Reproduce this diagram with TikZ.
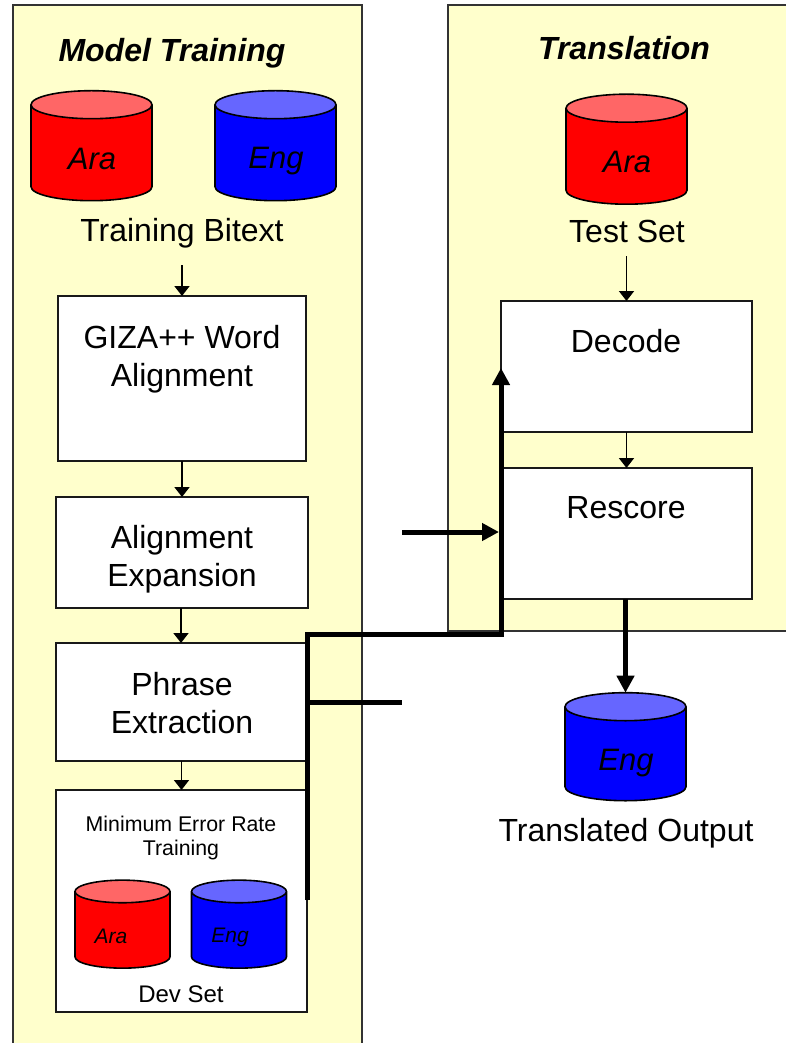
\documentclass[tikz,border=0pt]{standalone}
\usepackage{fontspec}
\setmainfont{Liberation Sans}
\usetikzlibrary{positioning, shapes.geometric, arrows.meta}
\definecolor{panelfill}{HTML}{FFFFCC}
\definecolor{redtop}{HTML}{FF6666}
\definecolor{bluetop}{HTML}{6666FF}
\tikzset{
  panel/.style={draw=black!80, line width=1.4pt, fill=panelfill, anchor=north west, inner sep=0pt, outer sep=0pt},
  stepbox/.style={draw=black!90, line width=1.8pt, fill=white, anchor=north west, inner sep=0pt, outer sep=0pt},
  bigtext/.style={font=\fontsize{32}{38.5}\selectfont, align=center},
  heading/.style={font=\fontsize{32}{38}\selectfont\bfseries\itshape},
  bigcyl/.style={cylinder, shape border rotate=90, draw=black, line width=1.6pt, cylinder uses custom fill,
    inner sep=28pt, outer sep=0pt, minimum width=121pt, minimum height=110pt, aspect=0.5},
  smallcyl/.style={bigcyl, inner sep=22.6pt, minimum width=95pt, minimum height=88pt},
  redcyl/.style={cylinder body fill=red, cylinder end fill=redtop},
  bluecyl/.style={cylinder body fill=blue, cylinder end fill=bluetop},
  cyltext/.style={font=\fontsize{31}{36}\selectfont\itshape},
  smalltext/.style={font=\fontsize{21}{24}\selectfont\itshape},
  thin arrow/.style={line width=1.8pt, -{Triangle[length=10pt,width=15pt]}},
  bus/.style={line width=5pt},
  bus arrow/.style={line width=5pt, -{Triangle[length=17pt,width=17pt]}}
}
\begin{document}
\begin{tikzpicture}[x=1pt,y=-1pt]
  \useasboundingbox (0,0) rectangle (786,1043);

  % panels
  \node [panel, minimum width=349pt, minimum height=1060pt] (modelpanel) at (13,5) {};
  \node [panel, minimum width=360pt, minimum height=626pt] (transpanel) at (448,5) {};
  \node [heading] (modeltitle) at (172,53) {Model Training};
  \node [heading] (transtitle) at (624,48) {Translation};

  % training side
  \node [bigcyl, redcyl] (trainara) at (91.5,159) {};
  \node [bigcyl, bluecyl] (traineng) at (275.5,159) {};
  \node [cyltext] (trainaratext) at (92,159) {Ara};
  \node [cyltext] (trainengtext) at (276,161) {Eng};
  \node [bigtext] (bitext) at (182,233) {Training Bitext};

  \node [stepbox, minimum width=248pt, minimum height=165pt] (giza) at (58,296) {};
  \node [bigtext, anchor=center] (gizatext) at (182,359) {GIZA++ Word\\Alignment};
  \node [stepbox, minimum width=252pt, minimum height=111pt] (expand) at (56,497) {};
  \node [bigtext] (expandtext) at (182,559) {Alignment\\Expansion};
  \node [stepbox, minimum width=250pt, minimum height=118pt] (phrase) at (56,643) {};
  \node [bigtext] (phrasetext) at (182,703) {Phrase\\Extraction};
  \node [stepbox, minimum width=251pt, minimum height=222pt] (mert) at (56,790) {};
  \node [font=\fontsize{21.3}{24.5}\selectfont, align=center] (merttext) at (181,838) {Minimum Error Rate\\Training};
  \node [smallcyl, redcyl] (devara) at (122.5,935) {};
  \node [smallcyl, bluecyl] (deveng) at (239,935) {};
  \node [smalltext] (devaratext) at (111,936) {Ara};
  \node [smalltext] (devengtext) at (230,937) {Eng};
  \node [font=\fontsize{24}{28}\selectfont] (devset) at (181,994) {Dev Set};

  % translation side
  \node [bigcyl, redcyl] (testara) at (626.5,162.5) {};
  \node [cyltext] (testaratext) at (627,162) {Ara};
  \node [bigtext] (testset) at (627,231) {Test Set};
  \node [stepbox, minimum width=251pt, minimum height=131pt] (decode) at (501,301) {};
  \node [bigtext] (decodetext) at (626,341) {Decode};
  \node [stepbox, minimum width=251pt, minimum height=131pt] (rescore) at (501,468) {};
  \node [bigtext] (rescoretext) at (626,508) {Rescore};
  \node [bigcyl, bluecyl, minimum height=108pt] (output) at (625.5,760) {};
  \node [cyltext] (outputtext) at (626,763) {Eng};
  \node [bigtext] (outputlabel) at (626,833) {Translated Output};

  % free ends of the thick lines
  \coordinate (busstart) at (307,900);
  \coordinate (buscorner) at (307,634);
  \coordinate (busbend) at (501,634);
  \coordinate (bustip) at (501,368);
  \coordinate (stubfrom) at (402,532);
  \coordinate (stubto) at (499,532);
  \coordinate (stubleft) at (307,702);
  \coordinate (stubright) at (402,702);
  \coordinate (bitextout) at (182,265);
  \coordinate (testout) at (626.5,256);

  \draw [thin arrow] (bitextout) -- (giza.north);
  \draw [thin arrow] (giza.south) -- (expand.north);
  \draw [thin arrow] (phrase.north |- expand.south) -- (phrase.north);
  \draw [thin arrow] (mert.north |- phrase.south) -- (mert.north);
  \draw [thin arrow] (testout) -- (decode.north);
  \draw [thin arrow] (decode.south) -- (rescore.north);

  \draw [bus arrow] (output.north |- rescore.south) -- (output.north);
  \draw [bus arrow, line join=miter] (busstart) -- (buscorner) -- (busbend) -- (bustip);
  \draw [bus arrow] (stubfrom) -- (stubto);
  \draw [bus] (stubleft) -- (stubright);
\end{tikzpicture}
\end{document}
